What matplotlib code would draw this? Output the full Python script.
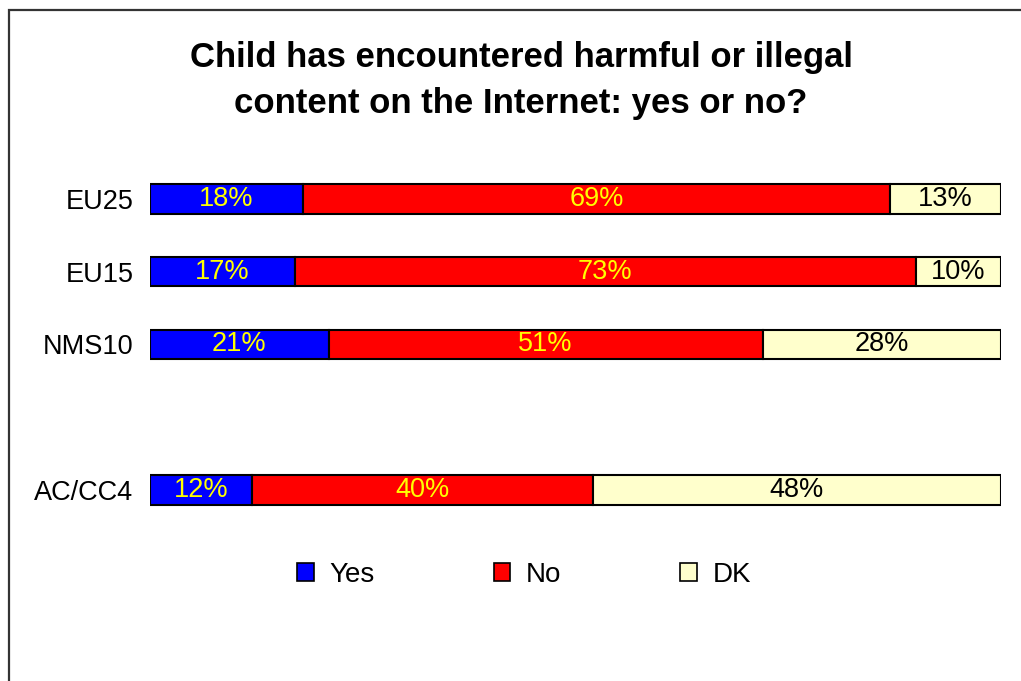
import matplotlib
matplotlib.use("Agg")
import matplotlib.pyplot as plt
from matplotlib.patches import Rectangle, Patch

plt.rcParams['font.family'] = ['Liberation Sans', 'DejaVu Sans']

# survey results, share of respondents in %
groups = ["EU25", "EU15", "NMS10", "AC/CC4"]
positions = [0, 1, 2, 4]
yes = [18, 17, 21, 12]
no = [69, 73, 51, 40]
dk = [13, 10, 28, 48]

series = [("Yes", yes, "#0000FF", "#FFFF00"),
          ("No", no, "#FF0000", "#FFFF00"),
          ("DK", dk, "#FFFFCC", "#000000")]

W, H = 1021, 681
fig = plt.figure(figsize=(W / 100, H / 100), dpi=100)

# outer frame, running off the right and bottom edge
fig.patches.append(Rectangle((8.5 / W, 0 - 0.05), 1.2, 1 - 10.5 / H + 0.05,
                             transform=fig.transFigure, fill=False,
                             edgecolor="#333333", linewidth=1.6, clip_on=False))

ax = fig.add_axes([150 / W, 1 - 526.4 / H, 851 / W, 363.8 / H])

left = [0] * len(groups)
for name, vals, color, tcolor in series:
    ax.barh(positions, vals, left=left, height=0.4, color=color,
            edgecolor="black", linewidth=1.5, label=name)
    for p, l, v in zip(positions, left, vals):
        ax.text(l + v / 2, p, f"{v}%", ha="center", va="center",
                fontsize=19.5, color=tcolor)
    left = [a + b for a, b in zip(left, vals)]

ax.set_xlim(0, 100)
ax.set_ylim(4.5, -0.5)
ax.set_yticks(positions)
ax.set_yticklabels(groups, fontsize=19.5)
ax.set_xticks([])
ax.tick_params(axis="y", length=0, pad=12)
for s in ax.spines.values():
    s.set_visible(False)

fig.text(521 / W, 1 - 57 / H, "Child has encountered harmful or illegal",
         ha="center", va="center", fontsize=25, fontweight="bold")
fig.text(521 / W, 1 - 103 / H, "content on the Internet: yes or no?",
         ha="center", va="center", fontsize=25, fontweight="bold")

handles = [Patch(facecolor=c, edgecolor="black", linewidth=1.2, label=n)
           for n, _, c, _ in series]
fig.legend(handles=handles, loc="center", bbox_to_anchor=(524 / W, 1 - 575 / H),
           ncol=3, frameon=False, fontsize=20, handlelength=0.6,
           handleheight=0.6, handletextpad=0.55, columnspacing=4.3)

fig.savefig("out.png", dpi=100)
